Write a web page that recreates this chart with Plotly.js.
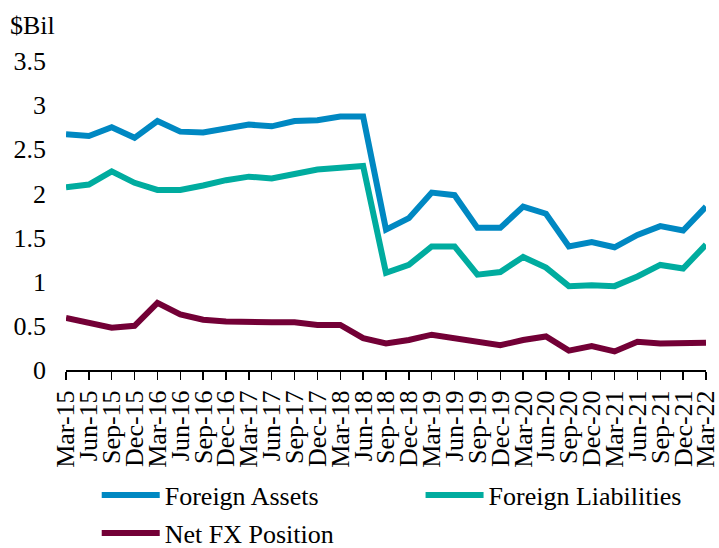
<!DOCTYPE html>
<html>
<head>
<meta charset="utf-8">
<script src="https://cdn.plot.ly/plotly-3.0.1.min.js"></script>
<style>html,body{margin:0;padding:0;background:#fff;}#chart{width:719px;height:548px;}</style>
</head>
<body>
<div id="chart"></div>
<script>
const quarters = ["Mar-15","Jun-15","Sep-15","Dec-15","Mar-16","Jun-16","Sep-16","Dec-16","Mar-17","Jun-17","Sep-17","Dec-17","Mar-18","Jun-18","Sep-18","Dec-18","Mar-19","Jun-19","Sep-19","Dec-19","Mar-20","Jun-20","Sep-20","Dec-20","Mar-21","Jun-21","Sep-21","Dec-21","Mar-22"];
const foreignAssets = [2.67,2.65,2.75,2.63,2.82,2.70,2.69,2.74,2.78,2.76,2.82,2.83,2.87,2.87,1.59,1.72,2.01,1.98,1.61,1.61,1.85,1.77,1.40,1.45,1.39,1.53,1.63,1.58,1.85];
const foreignLiabilities = [2.07,2.10,2.25,2.12,2.04,2.04,2.09,2.15,2.19,2.17,2.22,2.27,2.29,2.31,1.10,1.19,1.40,1.40,1.08,1.11,1.28,1.16,0.95,0.96,0.95,1.06,1.19,1.15,1.42];
const netFX = [0.59,0.53,0.48,0.50,0.76,0.63,0.57,0.55,0.54,0.54,0.54,0.51,0.51,0.36,0.30,0.34,0.40,0.36,0.31,0.28,0.34,0.38,0.22,0.27,0.21,0.32,0.30,0.31,0.31];
const yTicks = [0,0.5,1,1.5,2,2.5,3,3.5];
const yTickText = ["0","0.5","1","1.5","2","2.5","3","3.5"];

const FONT = "Liberation Serif";
const traces = [
  {x: quarters, y: foreignAssets, name: "Foreign Assets", type: "scatter", mode: "lines",
   line: {color: "#0088C2", width: 6}, legend: "legend"},
  {x: quarters, y: foreignLiabilities, name: "Foreign Liabilities", type: "scatter", mode: "lines",
   line: {color: "#00AC9F", width: 6}, legend: "legend2"},
  {x: quarters, y: netFX, name: "Net FX Position", type: "scatter", mode: "lines",
   line: {color: "#730036", width: 6}, legend: "legend3"}
];

const legFont = {family: FONT, size: 26, color: "#000"};
function leg(x, y) {
  return {orientation: "h", x: x, xanchor: "left", y: y, yanchor: "middle",
          itemwidth: 58, font: legFont, bgcolor: "rgba(0,0,0,0)"};
}

const layout = {
  width: 719, height: 548,
  margin: {l: 66, r: 13, t: 61, b: 178, autoexpand: false},
  paper_bgcolor: "#fff", plot_bgcolor: "#fff",
  font: {family: FONT, size: 26, color: "#000"},
  title: {text: "$Bil", font: {family: FONT, size: 26, color: "#000"},
          x: 10/719, xref: "container", xanchor: "left", y: 1 - 25/548, yref: "container", yanchor: "middle"},
  xaxis: {type: "category", range: [0, 28], showgrid: false, zeroline: false,
          tickmode: "linear", tick0: 0, dtick: 1,
          showline: true, linecolor: "#000", linewidth: 2,
          ticks: "outside", ticklen: 8, tickwidth: 1.5, tickcolor: "#000",
          tickangle: -90, tickfont: {family: FONT, size: 26, color: "#000"}},
  yaxis: {range: [0, 3.5], tickvals: yTicks, ticktext: yTickText, showgrid: false, zeroline: false,
          showline: false, ticks: "", ticklabelstandoff: 19,
          tickfont: {family: FONT, size: 26, color: "#000"}},
  showlegend: true,
  legend: leg(0.048, (370 - 495) / 309),
  legend2: leg(0.554, (370 - 495) / 309),
  legend3: leg(0.048, (370 - 533) / 309)
};

Plotly.newPlot("chart", traces, layout, {displayModeBar: false, staticPlot: true});
</script>
</body>
</html>
